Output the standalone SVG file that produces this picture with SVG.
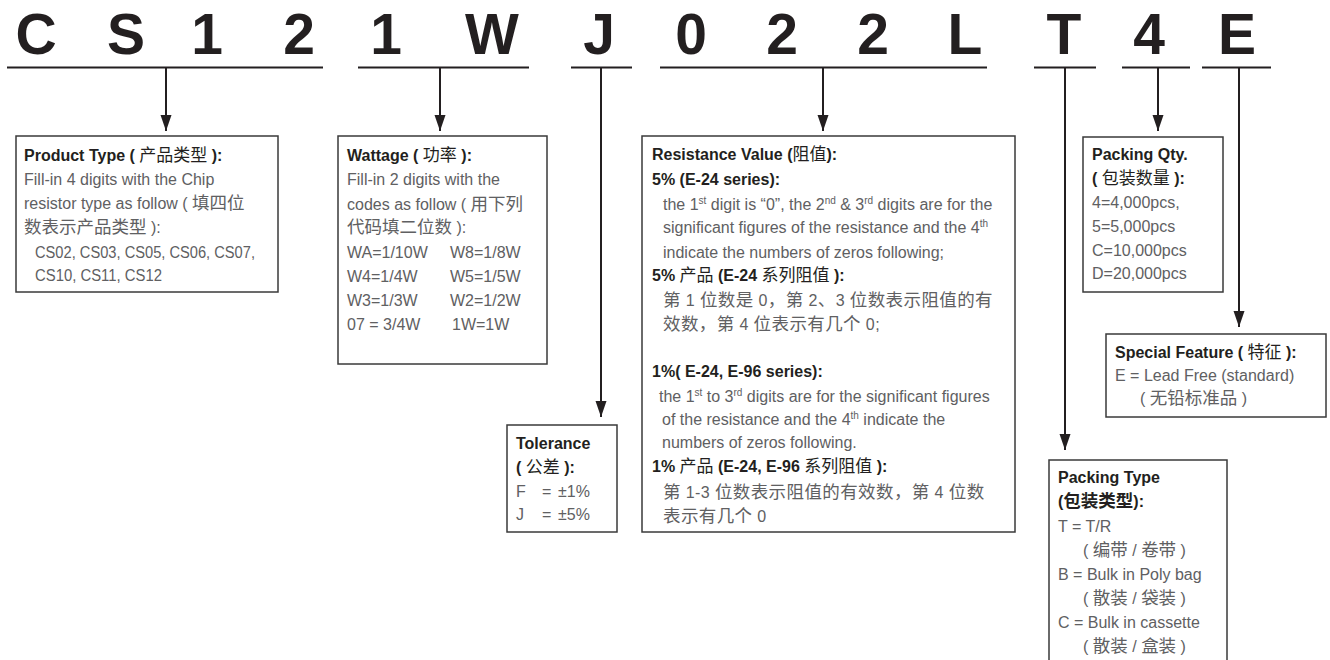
<svg xmlns="http://www.w3.org/2000/svg" width="1330" height="660" viewBox="0 0 1330 660">
<defs>
<marker id="ah" markerUnits="userSpaceOnUse" markerWidth="12" markerHeight="18" refX="6" refY="16" orient="0" viewBox="0 0 12 18">
<path d="M0.5,0 L11.5,0 L6,16 Z" fill="#231f20"/>
</marker>
<style>
.code{font-family:"Liberation Sans","DejaVu Sans",sans-serif;font-weight:bold;font-size:57px;fill:#231f20;text-anchor:middle}
.ul{stroke:#231f20;stroke-width:2;fill:none}
.con{stroke:#231f20;stroke-width:2;fill:none;marker-end:url(#ah)}
.box{fill:#fff;stroke:#3a3a3a;stroke-width:1.5}
.t{font-family:"Liberation Sans","Noto Sans CJK SC",sans-serif;font-size:16px;fill:#606062}
.b{font-family:"Liberation Sans","Noto Sans CJK SC",sans-serif;font-size:16px;font-weight:bold;fill:#231f20}
.c{font-family:"Noto Sans CJK SC",sans-serif;font-size:17.5px}
.cb{font-family:"Noto Sans CJK SC",sans-serif;font-size:17px;font-weight:normal}
.sup{font-size:10px}
</style>
</defs>
<rect width="1330" height="660" fill="#fff"/>
<g id="code">
<text class="code" x="36" y="54">C</text>
<text class="code" x="126" y="54">S</text>
<text class="code" x="207" y="54">1</text>
<text class="code" x="299" y="54">2</text>
<text class="code" x="386" y="54">1</text>
<text class="code" x="492" y="54">W</text>
<text class="code" x="599" y="54">J</text>
<text class="code" x="691" y="54">0</text>
<text class="code" x="782" y="54">2</text>
<text class="code" x="873" y="54">2</text>
<text class="code" x="965" y="54">L</text>
<text class="code" x="1064" y="54">T</text>
<text class="code" x="1149" y="54">4</text>
<text class="code" x="1237" y="54">E</text>
</g>
<g id="connectors">
<path class="ul" d="M7,67.5H323 M358,67.5H529 M571,67.5H632 M660,67.5H987 M1034,67.5H1096 M1122,67.5H1190 M1202,67.5H1271"/>
<path class="con" d="M166,67.5V131"/>
<path class="con" d="M440,67.5V131"/>
<path class="con" d="M601,67.5V417"/>
<path class="con" d="M823,67.5V131"/>
<path class="con" d="M1065,67.5V450"/>
<path class="con" d="M1158,67.5V131"/>
<path class="con" d="M1239,67.5V327"/>
</g>
<g id="product-type">
<rect class="box" x="16" y="136" width="262" height="156"/>
<text class="b" x="24" y="161">Product Type ( <tspan class="cb">产品类型</tspan> ):</text>
<text class="t" x="24" y="185">Fill-in 4 digits with the Chip</text>
<text class="t" x="24" y="209">resistor type as follow ( <tspan class="c">填四位</tspan></text>
<text class="t" x="24" y="233"><tspan class="c">数表示产品类型</tspan> ):</text>
<text class="t" x="35" y="258" textLength="220" lengthAdjust="spacingAndGlyphs">CS02, CS03, CS05, CS06, CS07,</text>
<text class="t" x="35" y="281" textLength="127" lengthAdjust="spacingAndGlyphs">CS10, CS11, CS12</text>
</g>
<g id="wattage">
<rect class="box" x="338" y="136" width="209" height="228"/>
<text class="b" x="347" y="161">Wattage ( <tspan class="cb">功率</tspan> ):</text>
<text class="t" x="347" y="185">Fill-in 2 digits with the</text>
<text class="t" x="347" y="210">codes as follow ( <tspan class="c">用下列</tspan></text>
<text class="t" x="347" y="233"><tspan class="c">代码填二位数</tspan> ):</text>
<text class="t" x="347" y="258">WA=1/10W<tspan x="450">W8=1/8W</tspan></text>
<text class="t" x="347" y="282">W4=1/4W<tspan x="450">W5=1/5W</tspan></text>
<text class="t" x="347" y="306">W3=1/3W<tspan x="450">W2=1/2W</tspan></text>
<text class="t" x="347" y="330">07 = 3/4W<tspan x="452">1W=1W</tspan></text>
</g>
<g id="tolerance">
<rect class="box" x="507" y="425" width="110" height="107"/>
<text class="b" x="516" y="449">Tolerance</text>
<text class="b" x="516" y="473">( <tspan class="cb">公差</tspan> ):</text>
<text class="t" x="516" y="497">F<tspan x="542">=</tspan><tspan x="558">±1%</tspan></text>
<text class="t" x="516" y="520">J<tspan x="542">=</tspan><tspan x="558">±5%</tspan></text>
</g>
<g id="resistance-value">
<rect class="box" x="642" y="136" width="373" height="396"/>
<text class="b" x="652" y="160">Resistance Value (<tspan class="cb">阻值</tspan>):</text>
<text class="b" x="652" y="185">5% (E-24 series):</text>
<text class="t" x="663" y="210">the 1<tspan class="sup" dy="-6">st</tspan><tspan dy="6"> digit is “0”, the 2</tspan><tspan class="sup" dy="-6">nd</tspan><tspan dy="6"> &amp; 3</tspan><tspan class="sup" dy="-6">rd</tspan><tspan dy="6"> digits are for the</tspan></text>
<text class="t" x="663" y="233">significant figures of the resistance and the 4<tspan class="sup" dy="-6">th</tspan></text>
<text class="t" x="663" y="258">indicate the numbers of zeros following;</text>
<text class="b" x="652" y="281">5% <tspan class="cb">产品</tspan> (E-24 <tspan class="cb">系列阻值</tspan> ):</text>
<text class="t" x="663" y="306" letter-spacing="0.4"><tspan class="c">第</tspan> 1 <tspan class="c">位数是</tspan> 0<tspan class="c">，第</tspan> 2<tspan class="c">、</tspan>3 <tspan class="c">位数表示阻值的有</tspan></text>
<text class="t" x="663" y="330" letter-spacing="0.4"><tspan class="c">效数，第</tspan> 4 <tspan class="c">位表示有几个</tspan> 0;</text>
<text class="b" x="652" y="377">1%( E-24, E-96 series):</text>
<text class="t" x="659" y="402">the 1<tspan class="sup" dy="-6">st</tspan><tspan dy="6"> to 3</tspan><tspan class="sup" dy="-6">rd</tspan><tspan dy="6"> digits are for the significant figures</tspan></text>
<text class="t" x="662" y="425">of the resistance and the 4<tspan class="sup" dy="-6">th</tspan><tspan dy="6"> indicate the</tspan></text>
<text class="t" x="662" y="448">numbers of zeros following.</text>
<text class="b" x="652" y="472">1% <tspan class="cb">产品</tspan> (E-24, E-96 <tspan class="cb">系列阻值</tspan> ):</text>
<text class="t" x="663" y="498" letter-spacing="0.4"><tspan class="c">第</tspan> 1-3 <tspan class="c">位数表示阻值的有效数，第</tspan> 4 <tspan class="c">位数</tspan></text>
<text class="t" x="663" y="522" letter-spacing="0.4"><tspan class="c">表示有几个</tspan> 0</text>
</g>
<g id="packing-qty">
<rect class="box" x="1083" y="137" width="140" height="155"/>
<text class="b" x="1092" y="160">Packing Qty.</text>
<text class="b" x="1092" y="184">( <tspan class="cb">包装数量</tspan> ):</text>
<text class="t" x="1092" y="208">4=4,000pcs,</text>
<text class="t" x="1092" y="232">5=5,000pcs</text>
<text class="t" x="1092" y="256">C=10,000pcs</text>
<text class="t" x="1092" y="279">D=20,000pcs</text>
</g>
<g id="special-feature">
<rect class="box" x="1106" y="334" width="220" height="83"/>
<text class="b" x="1115" y="358">Special Feature ( <tspan class="cb">特征</tspan> ):</text>
<text class="t" x="1115" y="381">E = Lead Free (standard)</text>
<text class="t" x="1140" y="404">( <tspan class="c">无铅标准品</tspan> )</text>
</g>
<g id="packing-type">
<rect class="box" x="1049" y="460" width="178" height="210"/>
<text class="b" x="1058" y="483">Packing Type</text>
<text class="b" x="1058" y="507">(<tspan class="c" font-weight="bold">包装类型</tspan>):</text>
<text class="t" x="1058" y="532">T = T/R</text>
<text class="t" x="1083" y="556">( <tspan class="c">编带</tspan> / <tspan class="c">卷带</tspan> )</text>
<text class="t" x="1058" y="580">B = Bulk in Poly bag</text>
<text class="t" x="1083" y="604">( <tspan class="c">散装</tspan> / <tspan class="c">袋装</tspan> )</text>
<text class="t" x="1058" y="628">C = Bulk in cassette</text>
<text class="t" x="1083" y="652">( <tspan class="c">散装</tspan> / <tspan class="c">盒装</tspan> )</text>
</g>
</svg>
